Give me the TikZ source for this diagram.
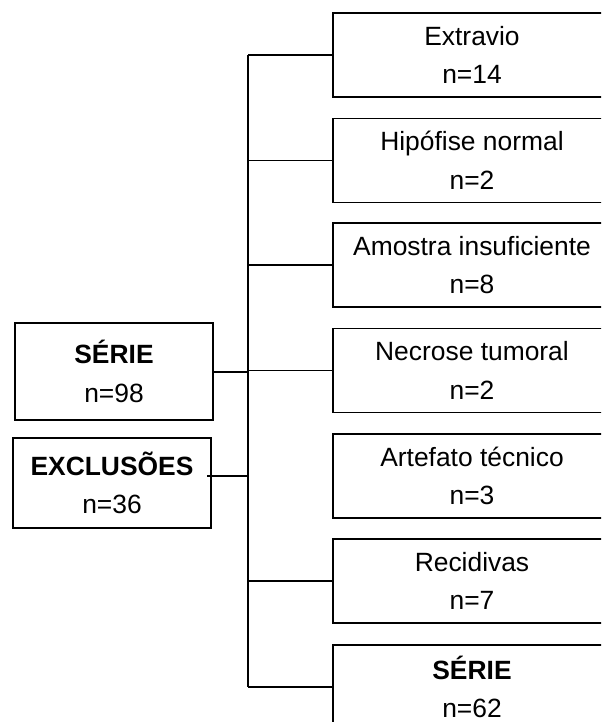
\documentclass[tikz,border=0pt]{standalone}
\usepackage{fontspec}
\setmainfont{Liberation Sans}

\begin{document}
\begin{tikzpicture}
  [x=0.75pt,y=-0.75pt,
   box/.style={draw,line width=1.2pt,rectangle,align=center,inner sep=0pt,
     font=\fontsize{19.8}{29}\selectfont},
   causa/.style={box,minimum width=208.5pt,minimum height=63pt},
   serie/.style={box,minimum width=148.5pt},
   fio/.style={line width=1pt},
   tronco/.style={line width=1.5pt}]
  \clip (0,0) rectangle (601,722);
  \node[serie,minimum height=72.75pt] (ini) at (114,371.5) {\textbf{SÉRIE}\\n=98};
  \node[serie,minimum height=67.5pt] (exc) at (112,483) {\textbf{EXCLUSÕES}\\n=36};
  \node[causa] (ext) at (472,55)    {Extravio\\n=14};
  \node[causa] (hip) at (472,160.5) {Hipófise normal\\n=2};
  \node[causa] (amo) at (472,265)   {Amostra insuficiente\\n=8};
  \node[causa] (nec) at (472,370.5) {Necrose tumoral\\n=2};
  \node[causa] (art) at (472,476)   {Artefato técnico\\n=3};
  \node[causa] (rec) at (472,581)   {Recidivas\\n=7};
  \node[causa] (fim) at (472,687)   {\textbf{SÉRIE}\\n=62};
  \coordinate (tk) at (248,0);
  \coordinate (excx) at (207,476);
  % tronco
  \draw[fio] (ext.west -| tk) -- (hip.west -| tk);
  \draw[tronco] (hip.west -| tk) -- (fim.west -| tk);
  \foreach \n in {ext,hip,amo,nec,rec,fim}
    \draw[fio] (\n.west) -- (\n.west -| tk);
  \draw[tronco] (ini.east) -- (ini.east -| tk);
  \draw[tronco] (excx) -- (excx -| tk);
\end{tikzpicture}
\end{document}
